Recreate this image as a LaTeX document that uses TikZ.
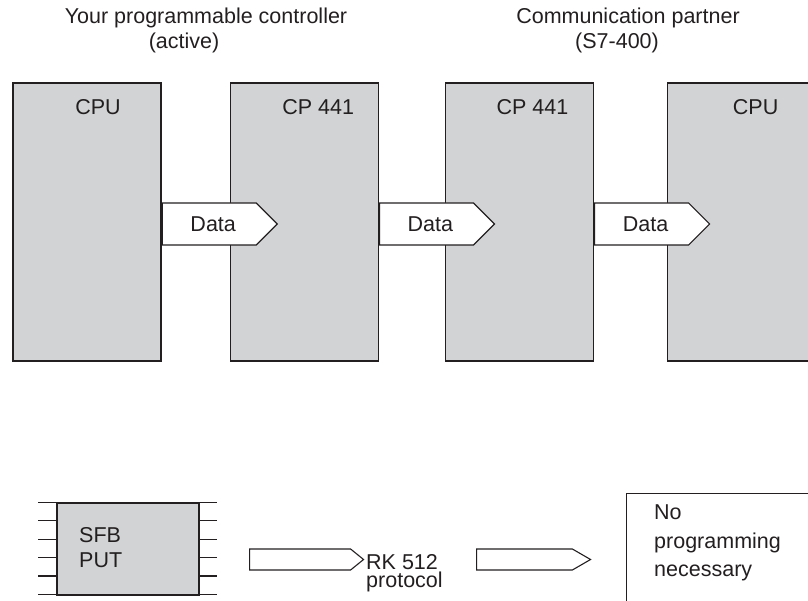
\documentclass[tikz,border=0pt]{standalone}
\usepackage{fontspec}
\setmainfont{Liberation Sans}
\usepackage{tikz}
\usetikzlibrary{positioning,shapes.symbols}
\definecolor{unitfill}{HTML}{D1D3D4}
\definecolor{inkline}{HTML}{231F20}

\begin{document}
\begin{tikzpicture}[x=1pt, y=-1pt,
  unit/.style={draw=inkline, line width=1.2pt, fill=unitfill, minimum width=148pt, minimum height=278pt, inner sep=0pt},
  lbl/.style={font=\fontsize{21.5}{25}\selectfont, text=inkline, inner sep=0pt},
  data/.style={shape=signal, signal to=east, signal pointer angle=90, draw=inkline, line width=1.2pt, fill=white, minimum width=115pt, minimum height=42pt, inner sep=0pt, font=\fontsize{21.5}{25}\selectfont, text=inkline},
  flow/.style={shape=signal, signal to=east, draw=inkline, line width=1.1pt, fill=white, minimum width=114pt, minimum height=21pt, inner sep=0pt},
  pin/.style={draw=inkline, line width=1.1pt}
]
  \useasboundingbox (0,0) rectangle (808,601);
  \clip (0,0) rectangle (808,601);

  % headings
  \node[lbl] (ttlA) at (206,18) {Your programmable controller};
  \node[lbl] (actA) at (184,43) {(active)};
  \node[lbl] (ttlB) at (628,18) {Communication partner};
  \node[lbl] (actB) at (617,43) {(S7-400)};

  % the four modules
  \node[unit] (cpuA) at (87,222) {};
  \node[unit, right=68pt of cpuA] (cpA) {};
  \node[unit, right=66pt of cpA] (cpB) {};
  \node[unit, right=73pt of cpB] (cpuB) {};
  \node[lbl] at ([xshift=11pt,yshift=-25pt]cpuA.north) {CPU};
  \node[lbl] at ([xshift=14pt,yshift=-25pt]cpA.north) {CP 441};
  \node[lbl] at ([xshift=13pt,yshift=-25pt]cpB.north) {CP 441};
  \node[lbl] at ([xshift=14pt,yshift=-25pt]cpuB.north) {CPU};

  % data flow
  \node[data, anchor=west, text depth=0pt] (dA) at ([yshift=-2pt]cpuA.east) {\hspace*{8pt}Data};
  \node[data, anchor=west, text depth=0pt] (dB) at ([yshift=-2pt]cpA.east) {\hspace*{8pt}Data};
  \node[data, anchor=west, text depth=0pt] (dC) at ([yshift=-2pt]cpB.east) {\hspace*{8pt}Data};

  % SFB block with pins
  \node[draw=inkline, line width=1.2pt, fill=unitfill, minimum width=142pt, minimum height=92pt, inner sep=0pt] (sfb) at (128,549) {};
  \foreach \k in {0,...,5} {
    \draw[pin] ([yshift=-\k*18.4pt]sfb.north west) -- ++(-18,0);
    \draw[pin] ([yshift=-\k*18.4pt]sfb.north east) -- ++(17,0);
  }
  \node[lbl, align=left, anchor=west] (sfbtxt) at (79,548) {SFB\\PUT};

  \node[flow, signal pointer angle=78, anchor=west] (fA) at (249,559.5) {};
  \node[lbl, align=left, anchor=west, font=\fontsize{21.5}{18}\selectfont] (rk) at (366,573) {RK 512\\protocol};
  \node[flow, signal pointer angle=60, anchor=west] (fB) at (476,559.5) {};

  \node[draw=inkline, line width=1.2pt, fill=white, minimum width=200pt, minimum height=130pt, anchor=north west] (none) at (626,493) {};
  \node[lbl, align=left, anchor=north west, font=\fontsize{21.5}{28.5}\selectfont] (nonetxt) at (654,505) {No\\programming\\necessary};
\end{tikzpicture}
\end{document}
